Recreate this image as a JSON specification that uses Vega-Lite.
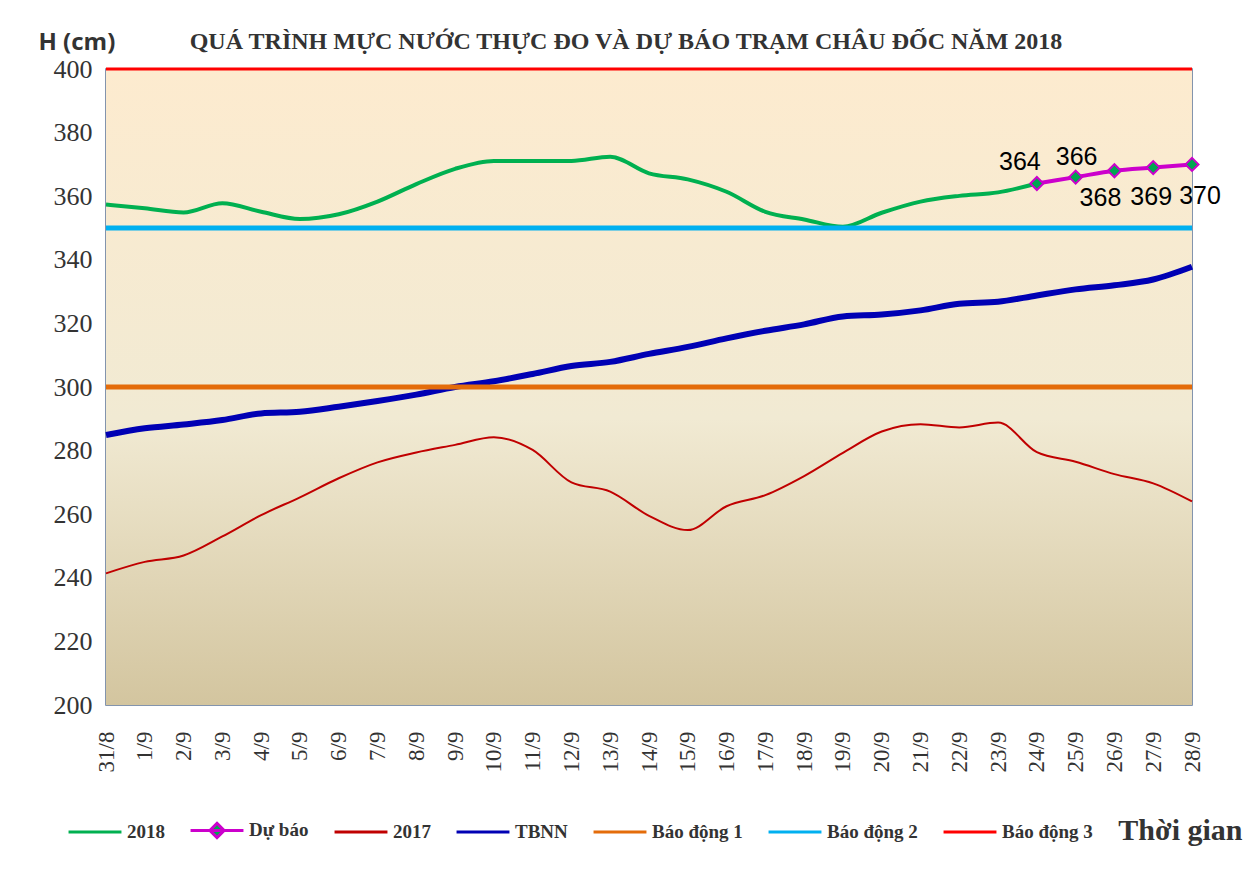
{
  "$schema": "https://vega.github.io/schema/vega-lite/v6.json",
  "width": 1086,
  "height": 636,
  "autosize": {"type": "none"},
  "padding": {"left": 106, "top": 69, "right": 64, "bottom": 177},
  "background": "white",
  "title": {
    "text": "QUÁ TRÌNH MỰC NƯỚC THỰC ĐO VÀ DỰ BÁO TRẠM CHÂU ĐỐC NĂM 2018",
    "font": "Liberation Serif",
    "fontSize": 24,
    "fontWeight": "bold",
    "color": "#333333",
    "anchor": "middle",
    "dx": -23,
    "dy": 38,
    "offset": 14
  },
  "datasets": {
    "obs": [
      {"date": "31/8", "series": "2018", "value": 357.4},
      {"date": "1/9", "series": "2018", "value": 356.2},
      {"date": "2/9", "series": "2018", "value": 354.9},
      {"date": "3/9", "series": "2018", "value": 357.8},
      {"date": "4/9", "series": "2018", "value": 355.1},
      {"date": "5/9", "series": "2018", "value": 352.8},
      {"date": "6/9", "series": "2018", "value": 354.3},
      {"date": "7/9", "series": "2018", "value": 358.3},
      {"date": "8/9", "series": "2018", "value": 363.8},
      {"date": "9/9", "series": "2018", "value": 368.6},
      {"date": "10/9", "series": "2018", "value": 371.1},
      {"date": "11/9", "series": "2018", "value": 371.1},
      {"date": "12/9", "series": "2018", "value": 371.1},
      {"date": "13/9", "series": "2018", "value": 372.4},
      {"date": "14/9", "series": "2018", "value": 367.2},
      {"date": "15/9", "series": "2018", "value": 365.3},
      {"date": "16/9", "series": "2018", "value": 361.4},
      {"date": "17/9", "series": "2018", "value": 355.1},
      {"date": "18/9", "series": "2018", "value": 352.7},
      {"date": "19/9", "series": "2018", "value": 350.4},
      {"date": "20/9", "series": "2018", "value": 354.8},
      {"date": "21/9", "series": "2018", "value": 358.3},
      {"date": "22/9", "series": "2018", "value": 360.1},
      {"date": "23/9", "series": "2018", "value": 361.2},
      {"date": "24/9", "series": "2018", "value": 364},
      {"date": "24/9", "series": "Dự báo", "value": 364},
      {"date": "25/9", "series": "Dự báo", "value": 366},
      {"date": "26/9", "series": "Dự báo", "value": 368},
      {"date": "27/9", "series": "Dự báo", "value": 369},
      {"date": "28/9", "series": "Dự báo", "value": 370},
      {"date": "31/8", "series": "2017", "value": 241.4},
      {"date": "1/9", "series": "2017", "value": 245},
      {"date": "2/9", "series": "2017", "value": 247},
      {"date": "3/9", "series": "2017", "value": 253},
      {"date": "4/9", "series": "2017", "value": 259.7},
      {"date": "5/9", "series": "2017", "value": 265.3},
      {"date": "6/9", "series": "2017", "value": 271.3},
      {"date": "7/9", "series": "2017", "value": 276.3},
      {"date": "8/9", "series": "2017", "value": 279.4},
      {"date": "9/9", "series": "2017", "value": 281.8},
      {"date": "10/9", "series": "2017", "value": 284.2},
      {"date": "11/9", "series": "2017", "value": 280.2},
      {"date": "12/9", "series": "2017", "value": 270},
      {"date": "13/9", "series": "2017", "value": 267.1},
      {"date": "14/9", "series": "2017", "value": 259.5},
      {"date": "15/9", "series": "2017", "value": 255},
      {"date": "16/9", "series": "2017", "value": 262.5},
      {"date": "17/9", "series": "2017", "value": 266},
      {"date": "18/9", "series": "2017", "value": 272},
      {"date": "19/9", "series": "2017", "value": 279.3},
      {"date": "20/9", "series": "2017", "value": 286},
      {"date": "21/9", "series": "2017", "value": 288.3},
      {"date": "22/9", "series": "2017", "value": 287.3},
      {"date": "23/9", "series": "2017", "value": 288.8},
      {"date": "24/9", "series": "2017", "value": 279.5},
      {"date": "25/9", "series": "2017", "value": 276.5},
      {"date": "26/9", "series": "2017", "value": 272.6},
      {"date": "27/9", "series": "2017", "value": 269.7},
      {"date": "28/9", "series": "2017", "value": 264},
      {"date": "31/8", "series": "TBNN", "value": 284.9},
      {"date": "1/9", "series": "TBNN", "value": 287},
      {"date": "2/9", "series": "TBNN", "value": 288.2},
      {"date": "3/9", "series": "TBNN", "value": 289.6},
      {"date": "4/9", "series": "TBNN", "value": 291.7},
      {"date": "5/9", "series": "TBNN", "value": 292.2},
      {"date": "6/9", "series": "TBNN", "value": 293.8},
      {"date": "7/9", "series": "TBNN", "value": 295.6},
      {"date": "8/9", "series": "TBNN", "value": 297.6},
      {"date": "9/9", "series": "TBNN", "value": 300},
      {"date": "10/9", "series": "TBNN", "value": 301.8},
      {"date": "11/9", "series": "TBNN", "value": 304.1},
      {"date": "12/9", "series": "TBNN", "value": 306.6},
      {"date": "13/9", "series": "TBNN", "value": 307.9},
      {"date": "14/9", "series": "TBNN", "value": 310.4},
      {"date": "15/9", "series": "TBNN", "value": 312.6},
      {"date": "16/9", "series": "TBNN", "value": 315.3},
      {"date": "17/9", "series": "TBNN", "value": 317.7},
      {"date": "18/9", "series": "TBNN", "value": 319.7},
      {"date": "19/9", "series": "TBNN", "value": 322.2},
      {"date": "20/9", "series": "TBNN", "value": 322.8},
      {"date": "21/9", "series": "TBNN", "value": 324.1},
      {"date": "22/9", "series": "TBNN", "value": 326.2},
      {"date": "23/9", "series": "TBNN", "value": 326.8},
      {"date": "24/9", "series": "TBNN", "value": 328.8},
      {"date": "25/9", "series": "TBNN", "value": 330.7},
      {"date": "26/9", "series": "TBNN", "value": 332},
      {"date": "27/9", "series": "TBNN", "value": 333.8},
      {"date": "28/9", "series": "TBNN", "value": 337.8}
    ],
    "alarms": [
      {"series": "Báo động 1", "value": 300},
      {"series": "Báo động 2", "value": 350},
      {"series": "Báo động 3", "value": 400}
    ],
    "frame": [
      {"top": 400, "bottom": 200}
    ]
  },
  "layer": [
    {
      "data": {"name": "frame"},
      "mark": {
        "type": "rect",
        "fill": {
          "gradient": "linear",
          "x1": 0, "y1": 0, "x2": 0, "y2": 1,
          "stops": [
            {"offset": 0, "color": "#FDEBCF"},
            {"offset": 0.55, "color": "#F1EAD3"},
            {"offset": 1, "color": "#D3C59F"}
          ]
        }
      },
      "encoding": {
        "y": {
          "field": "top",
          "type": "quantitative",
          "scale": {"domain": [200, 400], "nice": false, "zero": false},
          "axis": {
            "values": [200, 220, 240, 260, 280, 300, 320, 340, 360, 380, 400],
            "title": "H (cm)",
            "titleAngle": 0,
            "titleX": -68,
            "titleY": -27,
            "titleAlign": "left",
            "titleBaseline": "middle",
            "titleFont": "Open Sans",
            "titleFontSize": 24,
            "titleFontWeight": "bold",
            "titleColor": "#333333",
            "labelFont": "Liberation Serif",
            "labelFontSize": 26,
            "labelColor": "#333333",
            "labelPadding": 14,
            "ticks": false,
            "domain": false,
            "grid": false
          }
        },
        "y2": {"field": "bottom"}
      }
    },
    {
      "data": {"name": "obs"},
      "transform": [{"filter": "datum.series === '2018'"}],
      "mark": {"type": "line", "strokeWidth": 4, "interpolate": "monotone"},
      "encoding": {
        "x": {
          "field": "date",
          "type": "ordinal",
          "scale": {
            "type": "point",
            "padding": 0,
            "domain": ["31/8", "1/9", "2/9", "3/9", "4/9", "5/9", "6/9", "7/9", "8/9", "9/9", "10/9", "11/9", "12/9", "13/9", "14/9", "15/9", "16/9", "17/9", "18/9", "19/9", "20/9", "21/9", "22/9", "23/9", "24/9", "25/9", "26/9", "27/9", "28/9"]
          },
          "axis": {
            "labelAngle": -90,
            "labelFont": "Liberation Serif",
            "labelFontSize": 23,
            "labelColor": "#333333",
            "labelPadding": 26,
            "ticks": false,
            "domain": false,
            "grid": false,
            "title": "Thời gian",
            "titleFont": "Liberation Serif",
            "titleFontSize": 30,
            "titleFontWeight": "bold",
            "titleColor": "#333333",
            "titleAnchor": null,
            "titleAlign": "right",
            "titleBaseline": "alphabetic",
            "titleX": 1136,
            "titleY": 134
          }
        },
        "y": {"field": "value", "type": "quantitative"},
        "color": {
          "field": "series",
          "type": "nominal",
          "scale": {
            "domain": ["2018", "Dự báo", "2017", "TBNN", "Báo động 1", "Báo động 2", "Báo động 3"],
            "range": ["#00B050", "#CC00CC", "#C00000", "#0000B4", "#E46C0A", "#00B0F0", "#FF0000"]
          },
          "legend": {
            "orient": "none",
            "legendX": -39,
            "legendY": 733,
            "direction": "horizontal",
            "title": null,
            "symbolType": "stroke",
            "symbolSize": 2800,
            "symbolStrokeWidth": 3,
            "labelFont": "Liberation Serif",
            "labelFontSize": 19,
            "labelFontWeight": "bold",
            "labelColor": "#333333",
            "labelOffset": 4,
            "columnPadding": 19,
            "labelLimit": 0,
            "encode": {
              "symbols": {
                "update": {
                  "shape": {"signal": "datum.value === 'Dự báo' ? 'M-1,0H1M0,-0.27L0.27,0L0,0.27L-0.27,0Z' : 'stroke'"},
                  "fill": {"signal": "datum.value === 'Dự báo' ? '#00A651' : 'transparent'"}
                }
              }
            }
          }
        }
      }
    },
    {
      "data": {"name": "obs"},
      "transform": [{"filter": "datum.series === '2017'"}],
      "mark": {"type": "line", "strokeWidth": 2, "interpolate": "monotone"},
      "encoding": {
        "x": {"field": "date", "type": "ordinal"},
        "y": {"field": "value", "type": "quantitative"},
        "color": {"field": "series", "type": "nominal"}
      }
    },
    {
      "data": {"name": "obs"},
      "transform": [{"filter": "datum.series === 'TBNN'"}],
      "mark": {"type": "line", "strokeWidth": 6, "interpolate": "monotone"},
      "encoding": {
        "x": {"field": "date", "type": "ordinal"},
        "y": {"field": "value", "type": "quantitative"},
        "color": {"field": "series", "type": "nominal"}
      }
    },
    {
      "data": {"name": "alarms"},
      "transform": [{"filter": "datum.series === 'Báo động 1'"}],
      "mark": {"type": "rule", "strokeWidth": 5},
      "encoding": {
        "y": {"field": "value", "type": "quantitative"},
        "color": {"field": "series", "type": "nominal"}
      }
    },
    {
      "data": {"name": "alarms"},
      "transform": [{"filter": "datum.series === 'Báo động 2'"}],
      "mark": {"type": "rule", "strokeWidth": 5},
      "encoding": {
        "y": {"field": "value", "type": "quantitative"},
        "color": {"field": "series", "type": "nominal"}
      }
    },
    {
      "data": {"name": "alarms"},
      "transform": [{"filter": "datum.series === 'Báo động 3'"}],
      "mark": {"type": "rule", "strokeWidth": 3},
      "encoding": {
        "y": {"field": "value", "type": "quantitative"},
        "color": {"field": "series", "type": "nominal"}
      }
    },
    {
      "data": {"name": "obs"},
      "transform": [{"filter": "datum.series === 'Dự báo'"}],
      "mark": {"type": "line", "strokeWidth": 4, "interpolate": "monotone"},
      "encoding": {
        "x": {"field": "date", "type": "ordinal"},
        "y": {"field": "value", "type": "quantitative"},
        "color": {"field": "series", "type": "nominal"}
      }
    },
    {
      "data": {"name": "obs"},
      "transform": [{"filter": "datum.series === 'Dự báo'"}],
      "mark": {"type": "point", "shape": "diamond", "filled": true, "fill": "#00A651", "stroke": "#CC00CC", "strokeWidth": 2, "size": 170, "opacity": 1},
      "encoding": {
        "x": {"field": "date", "type": "ordinal"},
        "y": {"field": "value", "type": "quantitative"}
      }
    },
    {
      "data": {"name": "obs"},
      "transform": [{"filter": "datum.series === 'Dự báo' && datum.date === '24/9'"}],
      "mark": {"type": "text", "font": "Liberation Sans", "fontSize": 25, "color": "#000000", "dx": -17, "dy": -21},
      "encoding": {
        "x": {"field": "date", "type": "ordinal"},
        "y": {"field": "value", "type": "quantitative"},
        "text": {"field": "value", "type": "quantitative"}
      }
    },
    {
      "data": {"name": "obs"},
      "transform": [{"filter": "datum.series === 'Dự báo' && datum.date === '25/9'"}],
      "mark": {"type": "text", "font": "Liberation Sans", "fontSize": 25, "color": "#000000", "dx": 1, "dy": -20},
      "encoding": {
        "x": {"field": "date", "type": "ordinal"},
        "y": {"field": "value", "type": "quantitative"},
        "text": {"field": "value", "type": "quantitative"}
      }
    },
    {
      "data": {"name": "obs"},
      "transform": [{"filter": "datum.series === 'Dự báo' && datum.date === '26/9'"}],
      "mark": {"type": "text", "font": "Liberation Sans", "fontSize": 25, "color": "#000000", "dx": -14, "dy": 27},
      "encoding": {
        "x": {"field": "date", "type": "ordinal"},
        "y": {"field": "value", "type": "quantitative"},
        "text": {"field": "value", "type": "quantitative"}
      }
    },
    {
      "data": {"name": "obs"},
      "transform": [{"filter": "datum.series === 'Dự báo' && datum.date === '27/9'"}],
      "mark": {"type": "text", "font": "Liberation Sans", "fontSize": 25, "color": "#000000", "dx": -2, "dy": 29},
      "encoding": {
        "x": {"field": "date", "type": "ordinal"},
        "y": {"field": "value", "type": "quantitative"},
        "text": {"field": "value", "type": "quantitative"}
      }
    },
    {
      "data": {"name": "obs"},
      "transform": [{"filter": "datum.series === 'Dự báo' && datum.date === '28/9'"}],
      "mark": {"type": "text", "font": "Liberation Sans", "fontSize": 25, "color": "#000000", "dx": 8, "dy": 32},
      "encoding": {
        "x": {"field": "date", "type": "ordinal"},
        "y": {"field": "value", "type": "quantitative"},
        "text": {"field": "value", "type": "quantitative"}
      }
    }
  ],
  "config": {
    "view": {"stroke": "#5B7193", "strokeWidth": 1.5}
  }
}
